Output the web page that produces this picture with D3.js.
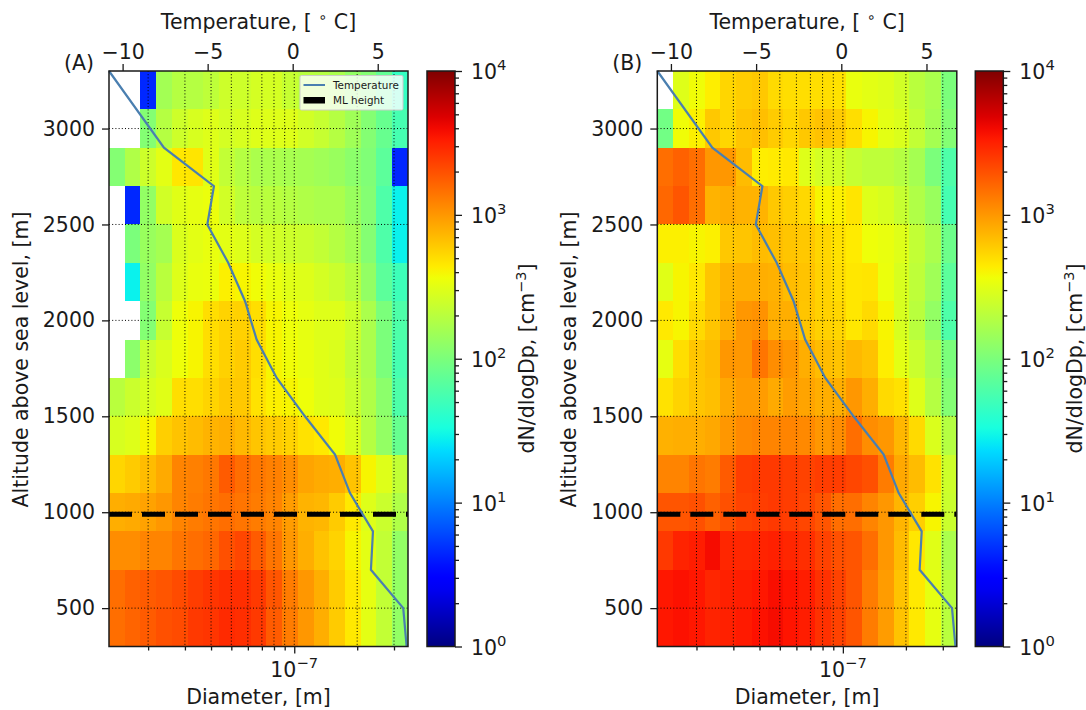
<!DOCTYPE html>
<html><head><meta charset="utf-8">
<script src="https://cdnjs.cloudflare.com/ajax/libs/d3/7.8.5/d3.min.js"></script>
<style>html,body{margin:0;padding:0;background:#fff}svg{display:block}text{font-family:"DejaVu Sans",sans-serif;fill:#1a1a1a}</style>
</head><body><svg id="c" width="1086" height="710"></svg>
<script>
const diameterEdges=[1.3e-8,1.546e-8,1.838e-8,2.186e-8,2.6e-8,3.09e-8,3.68e-8,4.37e-8,5.2e-8,6.18e-8,7.35e-8,8.74e-8,1.04e-7,1.24e-7,1.47e-7,1.75e-7,2.08e-7,2.47e-7,2.94e-7,3.5e-7];
const altitudeEdges=[3300,3100,2900,2700,2500,2300,2100,1900,1700,1500,1300,1100,900,700,500,300];
const _=null;
const valuesA=[
[_,_,4.5,155,190,190,210,250,250,270,270,230,200,190,170,130,110,75,45],
[_,_,110,190,250,280,300,270,280,300,300,300,260,230,190,150,110,80,55],
[110,180,250,320,460,470,310,220,190,170,170,165,160,150,140,120,105,70,4.5],
[_,4.5,130,260,310,330,350,260,210,200,200,190,180,170,170,140,110,60,28],
[_,100,140,160,290,320,340,320,300,270,260,250,240,220,190,160,110,60,28],
[_,28,130,200,300,340,350,420,400,370,340,310,300,270,240,200,130,70,50],
[_,_,110,230,360,400,500,560,570,500,400,360,330,300,300,250,170,100,60],
[_,120,240,290,360,400,500,570,600,500,400,370,340,310,290,220,170,100,55],
[200,240,280,310,500,500,550,620,620,480,420,400,360,310,300,240,180,120,60],
[280,300,400,580,650,700,760,800,720,640,600,560,480,450,370,290,190,130,80],
[540,600,700,830,1200,1250,1350,1800,1500,1350,1250,1100,880,820,800,650,400,300,220],
[800,830,900,1000,1200,1300,1400,1500,1400,1300,1200,950,760,730,600,450,300,240,180],
[1100,1100,1200,1200,1400,1500,1600,2000,2200,1800,1400,1000,800,650,560,400,320,220,130],
[1500,1700,1800,1900,2100,2400,2600,2800,2800,2500,1900,1300,1000,800,600,450,330,220,130],
[1500,1650,1800,2000,2100,2500,2600,2900,2800,2500,1800,1300,1000,800,600,450,320,220,130]];
const valuesB=[
[_,300,370,430,540,590,620,520,500,500,500,480,340,320,300,260,200,170,100],
[90,370,420,620,540,640,680,600,540,620,660,600,500,400,320,290,220,160,110],
[1500,1700,1500,1000,1000,700,430,440,450,300,270,260,230,210,210,190,160,100,60],
[1600,1900,1500,760,800,760,760,620,580,530,400,420,470,300,280,230,180,140,55],
[420,420,400,420,620,640,700,680,640,620,540,480,440,360,340,300,220,170,85],
[310,400,460,640,760,790,800,780,700,650,560,500,460,470,350,280,210,150,70],
[450,400,520,640,800,1000,1050,800,800,640,570,540,460,520,400,280,200,130,60],
[330,500,640,700,1000,1000,1400,1100,1000,800,700,650,720,660,430,320,240,170,100],
[480,560,640,680,850,950,950,830,950,880,800,800,1000,800,520,480,300,190,110],
[780,800,800,850,1000,1150,1200,1200,1200,1150,1000,1100,1500,1100,1000,730,520,290,190],
[1200,1200,1400,1300,1800,2400,2500,2500,2400,2300,2400,2400,2200,2000,1300,850,700,480,250],
[1900,1900,2000,1700,2000,2300,2400,2500,2400,2200,1900,1500,1500,1200,1000,750,580,400,240],
[2500,3100,3300,3900,3000,3000,3100,3200,3000,2800,2300,2000,1900,1500,1000,700,460,310,170],
[3500,3700,3500,3000,3200,3300,3500,3800,3600,3300,2700,2300,1900,1300,950,650,450,330,200],
[3500,3700,3500,3100,3200,3400,3700,3900,3600,3300,2700,2300,1900,1300,950,650,450,330,200]];
const tempAltitude=[3300,2900,2700,2500,2300,2100,1900,1700,1500,1300,1100,900,700,500,300];
const temperature=[-10.8,-7.57,-4.63,-5.02,-3.79,-2.8,-2.12,-0.94,0.72,2.49,3.37,4.72,4.6,6.5,6.7];
const mlHeight=[989];
const altitudeTicks=[500,1000,1500,2000,2500,3000];
const temperatureTicks=[-10,-5,0,5];
const diameterMinorTicks=[2e-8,3e-8,4e-8,5e-8,6e-8,7e-8,8e-8,9e-8,2e-7,3e-7];
const diameterMajorTicks=[1e-7];
const colorExponents=[0,1,2,3,4];
const panelNames=["(A)","(B)"];
const legendLabels=["Temperature","ML height"];

const fs=20.5, ink="#1a1a1a";
const svg=d3.select("#c");
function interp(seg,t){for(let i=1;i<seg.length;i++){if(t<=seg[i][0]){const a=seg[i-1],b=seg[i];return a[1]+(b[1]-a[1])*(t-a[0])/(b[0]-a[0]);}}return seg[seg.length-1][1];}
const jR=[[0,0],[.35,0],[.66,1],[.89,1],[1,.5]],jG=[[0,0],[.125,0],[.375,1],[.64,1],[.91,0],[1,0]],jB=[[0,.5],[.11,1],[.34,1],[.65,0],[1,0]];
const jet=t=>`rgb(${Math.round(255*interp(jR,t))},${Math.round(255*interp(jG,t))},${Math.round(255*interp(jB,t))})`;
const colorNorm=d3.scaleLog().domain([1,1e4]).range([0,1]);
const defs=svg.append("defs");
const grad=defs.append("linearGradient").attr("id","jet").attr("x1",0).attr("x2",0).attr("y1",1).attr("y2",0);
d3.range(0,1.0001,0.02).forEach(t=>grad.append("stop").attr("offset",t).attr("stop-color",jet(t)));

function sup(sel,base,exp,size){
  sel.append("tspan").text(base);
  sel.append("tspan").attr("dy",-size*0.42).attr("font-size",size*0.72).text(exp);
}
function panel(i,values,x0,x1,cb0,cb1){
  const top=71,bot=646.5;
  const x=d3.scaleLog().domain([diameterEdges[0],diameterEdges[19]]).range([x0,x1]);
  const y=d3.scaleLinear().domain([300,3300]).range([bot,top]);
  const tScale=d3.scaleLinear().domain([-10.8,6.78]).range([x0,x1]);
  const g=svg.append("g");
  values.forEach((row,r)=>row.forEach((v,c)=>{
    if(v===null)return;
    g.append("rect").attr("x",x(diameterEdges[c])).attr("width",x(diameterEdges[c+1])-x(diameterEdges[c]))
     .attr("y",y(altitudeEdges[r])).attr("height",y(altitudeEdges[r+1])-y(altitudeEdges[r]))
     .attr("fill",jet(colorNorm(v))).attr("shape-rendering","crispEdges");
  }));
  diameterMinorTicks.concat(diameterMajorTicks).forEach(d=>g.append("line").attr("x1",x(d)).attr("x2",x(d)).attr("y1",top).attr("y2",bot).attr("stroke","#000").attr("stroke-width",1).attr("stroke-dasharray","1,2.2"));
  altitudeTicks.forEach(a=>g.append("line").attr("x1",x0).attr("x2",x1).attr("y1",y(a)).attr("y2",y(a)).attr("stroke","#000").attr("stroke-width",1).attr("stroke-dasharray","1,2.2"));
  g.append("line").attr("x1",x0).attr("x2",x1).attr("y1",y(mlHeight[0])).attr("y2",y(mlHeight[0])).attr("stroke","#000").attr("stroke-width",5).attr("stroke-dasharray","23,10");
  const ln=d3.line().x(d=>tScale(d[0])).y(d=>y(d[1]));
  g.append("path").attr("d",ln(temperature.map((t,k)=>[t,tempAltitude[k]]))).attr("fill","none").attr("stroke","#4a7fb0").attr("stroke-width",2.2);
  const left=svg.append("g").attr("transform",`translate(${x0},0)`).call(d3.axisLeft(y).tickValues(altitudeTicks).tickSize(7).tickPadding(7).tickFormat(d3.format("d")));
  const topA=svg.append("g").attr("transform",`translate(0,${top})`).call(d3.axisTop(tScale).tickValues(temperatureTicks).tickSize(7).tickPadding(5).tickFormat(d=>d<0?"\u2212"+Math.abs(d):d));
  const botMin=svg.append("g").attr("transform",`translate(0,${bot})`).call(d3.axisBottom(x).tickValues(diameterMinorTicks).tickSize(4).tickFormat(""));
  const botMaj=svg.append("g").attr("transform",`translate(0,${bot})`).call(d3.axisBottom(x).tickValues(diameterMajorTicks).tickSize(7).tickFormat(""));
  [left,topA,botMin,botMaj].forEach(a=>{a.select(".domain").remove();a.selectAll("line").attr("stroke",ink).attr("stroke-width",1.3);a.selectAll("text").attr("font-size",fs).attr("font-family","DejaVu Sans").attr("fill",ink);});
  svg.append("rect").attr("x",x0).attr("y",top).attr("width",x1-x0).attr("height",bot-top).attr("fill","none").attr("stroke",ink).attr("stroke-width",1.5);
  const t10=svg.append("text").attr("x",x(1e-7)).attr("y",677).attr("text-anchor","middle").attr("font-size",fs);
  sup(t10,"10","\u22127",fs);
  const cx=(x0+x1)/2;
  svg.append("text").attr("x",cx).attr("y",704).attr("text-anchor","middle").attr("font-size",fs).text("Diameter, [m]");
  const tt=svg.append("text").attr("x",cx).attr("y",29).attr("text-anchor","middle").attr("font-size",fs);
  tt.append("tspan").text("Temperature, [ ");
  tt.append("tspan").attr("dy",-7).attr("font-size",14.5).text("\u2218");
  tt.append("tspan").attr("dy",7).text(" C]");
  svg.append("text").attr("transform",`translate(${x0-81},359.5) rotate(-90)`).attr("text-anchor","middle").attr("font-size",fs).text("Altitude above sea level, [m]");
  svg.append("text").attr("x",x0-45).attr("y",70).attr("font-size",fs).text(panelNames[i]);
  const cy=d3.scaleLog().domain([1,1e4]).range([bot,top]);
  svg.append("rect").attr("x",cb0).attr("y",top).attr("width",cb1-cb0).attr("height",bot-top).attr("fill","url(#jet)").attr("stroke",ink).attr("stroke-width",1.5);
  const minor=[];colorExponents.slice(0,4).forEach(e=>{[2,3,4,5,6,7,8,9].forEach(m=>minor.push(m*10**e));});
  const cMin=svg.append("g").attr("transform",`translate(${cb1},0)`).call(d3.axisRight(cy).tickValues(minor).tickSize(4).tickFormat(""));
  const cMaj=svg.append("g").attr("transform",`translate(${cb1},0)`).call(d3.axisRight(cy).tickValues(colorExponents.map(e=>10**e)).tickSize(7).tickFormat(""));
  [cMin,cMaj].forEach(a=>{a.select(".domain").remove();a.selectAll("line").attr("stroke",ink).attr("stroke-width",1.3);});
  colorExponents.forEach(e=>{
    const t=svg.append("text").attr("x",cb1+16).attr("y",cy(10**e)+8).attr("font-size",fs);
    sup(t,"10",String(e),fs);
  });
  const cl=svg.append("text").attr("transform",`translate(${cb1+79},358.5) rotate(-90)`).attr("text-anchor","middle").attr("font-size",fs);
  cl.append("tspan").text("dN/dlogDp, [cm");
  cl.append("tspan").attr("dy",-8).attr("font-size",14.5).text("\u22123");
  cl.append("tspan").attr("dy",8).text("]");
  if(i===0){
    const lg=svg.append("g");
    lg.append("rect").attr("x",300).attr("y",75.5).attr("width",103).attr("height",34.5).attr("rx",1.5).attr("fill","#fff").attr("fill-opacity",.8).attr("stroke","#ccc").attr("stroke-width",1);
    lg.append("line").attr("x1",303.5).attr("x2",325).attr("y1",85).attr("y2",85).attr("stroke","#4a7fb0").attr("stroke-width",2);
    lg.append("rect").attr("x",303.5).attr("y",97).attr("width",21.5).attr("height",6.5).attr("fill","#000");
    lg.append("text").attr("x",333).attr("y",88.5).attr("font-size",10.4).text(legendLabels[0]);
    lg.append("text").attr("x",333).attr("y",103.5).attr("font-size",10.4).text(legendLabels[1]);
  }
}
panel(0,valuesA,109,408,427,455);
panel(1,valuesB,657.3,956.8,975.3,1003.3);
</script></body></html>
